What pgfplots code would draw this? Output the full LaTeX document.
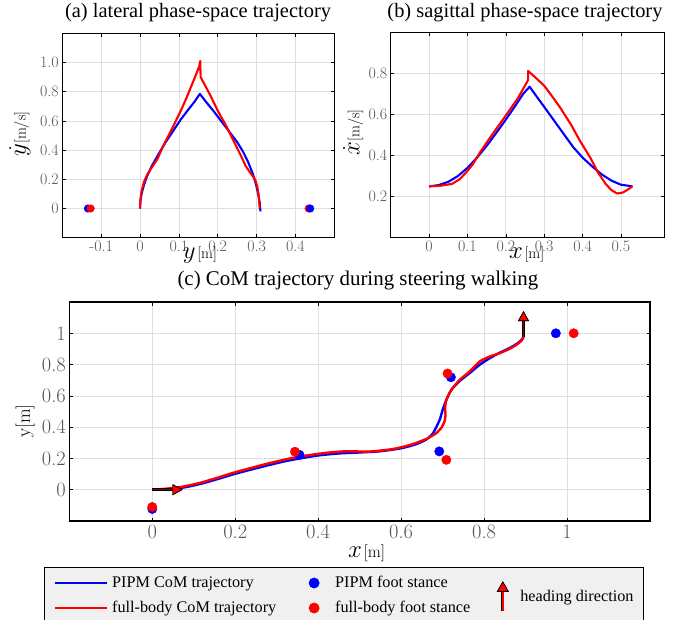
\documentclass[border=0pt]{standalone}
\usepackage{fontspec}
\setmainfont{Liberation Serif}
\newfontfamily\lmfont{Latin Modern Roman}
\usepackage{pgfplots}
\pgfplotsset{compat=1.18}
\usetikzlibrary{arrows.meta}

\definecolor{legfill}{RGB}{240,240,240}
\definecolor{gridc}{RGB}{222,222,222}
\definecolor{tickc}{RGB}{85,85,85}

\pgfplotsset{
  panel/.style={
    scale only axis,
    axis line style={black, line width=1.1bp},
    tick pos=both, tick align=inside, major tick length=3.5bp,
    every tick/.style={black, line width=0.6bp},
    grid=major, major grid style={gridc, line width=0.7bp},
    tick label style={color=tickc},
    /pgf/number format/assume math mode=true,
  },
  pipm/.style={blue, line width=2.1bp, line join=round},
  full/.style={red, line width=2.1bp, line join=round},
  heading/.style={-{Triangle[length=10bp, width=11bp, fill=red, color=black, line width=0.6bp]}},
}

\newcommand{\titlefont}{\fontsize{20.5}{22}\selectfont}
\newcommand{\unit}[1]{{\lmfont\fontsize{15.5}{16}\selectfont[#1]}}
\newcommand{\lab}[2]{{\fontsize{24}{24}\selectfont$#1$}\,\unit{#2}}

\begin{document}
\begin{tikzpicture}
\path[use as bounding box] (0bp,0bp) rectangle (685bp,-620bp);

% ---------- (a) lateral phase space ----------
\begin{axis}[panel,
  at={(62.3bp,-33.3bp)}, anchor=north west,
  width=272bp, height=204.4bp,
  xmin=-0.2, xmax=0.5, ymin=-0.2, ymax=1.2,
  xtick={-0.1,0,0.1,0.2,0.3,0.4},
  ytick={0,0.2,0.4,0.6,0.8,1.0},
  yticklabels={0,0.2,0.4,0.6,0.8,1.0},
  tick label style={font=\lmfont\fontsize{16}{16}\selectfont},
  title={(a) lateral phase-space trajectory},
  title style={font=\titlefont, at={(axis description cs:0.499,1.05)}, anchor=base},
  xlabel={\lab{y}{m}},
  xlabel style={at={(axis description cs:0.506,-0.102)}, anchor=base},
  ylabel={{\fontsize{24}{24}\selectfont$\dot{y}$}\unit{m/s}},
  ylabel style={at={(axis description cs:-0.156,0.507)}, anchor=center},
]
\addplot[pipm] coordinates {
 (0.000,0.00) (0.001,0.05) (0.004,0.10) (0.010,0.16) (0.018,0.22)
 (0.030,0.29) (0.045,0.36) (0.065,0.45) (0.085,0.53) (0.105,0.61)
 (0.125,0.68) (0.140,0.73) (0.154,0.785) (0.170,0.73) (0.190,0.665)
 (0.210,0.595) (0.230,0.525) (0.250,0.455) (0.265,0.39) (0.278,0.32)
 (0.290,0.24) (0.298,0.17) (0.304,0.10) (0.308,0.04) (0.310,-0.02)};
\addplot[full] coordinates {
 (0.000,0.00) (0.001,0.06) (0.004,0.12) (0.010,0.18) (0.018,0.23)
 (0.030,0.28) (0.045,0.34) (0.060,0.43) (0.085,0.56) (0.105,0.67)
 (0.120,0.76) (0.140,0.89) (0.152,0.97) (0.155,1.01) (0.156,0.90)
 (0.180,0.78) (0.200,0.67) (0.223,0.56) (0.245,0.44) (0.260,0.36)
 (0.272,0.29) (0.285,0.24) (0.296,0.20) (0.302,0.15) (0.306,0.08)
 (0.308,0.00)};
\addplot[only marks, mark=*, mark size=3.8bp, blue] coordinates {(-0.134,0)};
\addplot[only marks, mark=*, mark size=3.8bp, red] coordinates {(-0.127,0) (0.434,0)};
\addplot[only marks, mark=*, mark size=3.8bp, blue] coordinates {(0.438,0)};
\end{axis}

% ---------- (b) sagittal phase space ----------
\begin{axis}[panel,
  at={(390.7bp,-32.3bp)}, anchor=north west,
  width=274bp, height=205.4bp,
  xmin=-0.1, xmax=0.614, ymin=0, ymax=1.0,
  xtick={0,0.1,0.2,0.3,0.4,0.5},
  ytick={0.2,0.4,0.6,0.8},
  tick label style={font=\lmfont\fontsize{16}{16}\selectfont},
  title={(b) sagittal phase-space trajectory},
  title style={font=\titlefont, at={(axis description cs:0.49,1.044)}, anchor=base},
  xlabel={\lab{x}{m}},
  xlabel style={at={(axis description cs:0.496,-0.102)}, anchor=base},
  ylabel={{\fontsize{24}{24}\selectfont$\dot{x}$}\unit{m/s}},
  ylabel style={at={(axis description cs:-0.137,0.512)}, anchor=center},
]
\addplot[pipm] coordinates {
 (0.000,0.250) (0.025,0.256) (0.050,0.272) (0.075,0.300) (0.100,0.340)
 (0.125,0.390) (0.150,0.447) (0.175,0.510) (0.200,0.575) (0.225,0.643)
 (0.245,0.700) (0.262,0.735) (0.280,0.688) (0.300,0.637) (0.325,0.572)
 (0.350,0.507) (0.376,0.440) (0.400,0.390) (0.425,0.347) (0.450,0.308)
 (0.475,0.278) (0.500,0.258) (0.530,0.250)};
\addplot[full] coordinates {
 (0.000,0.250) (0.030,0.253) (0.060,0.262) (0.080,0.285) (0.100,0.325)
 (0.115,0.360) (0.133,0.416) (0.160,0.490) (0.200,0.595) (0.230,0.675)
 (0.256,0.760) (0.258,0.770) (0.258,0.812) (0.280,0.775) (0.300,0.740)
 (0.320,0.690) (0.341,0.635) (0.370,0.550) (0.393,0.472) (0.420,0.390)
 (0.440,0.318) (0.460,0.262) (0.475,0.232) (0.490,0.215) (0.505,0.220)
 (0.520,0.237) (0.530,0.250)};
\end{axis}

% ---------- (c) CoM trajectory ----------
\begin{axis}[panel,
  at={(69.3bp,-302bp)}, anchor=north west,
  width=580.7bp, height=219bp,
  xmin=-0.2, xmax=1.2, ymin=-0.2, ymax=1.2,
  xtick={0,0.2,0.4,0.6,0.8,1},
  ytick={0,0.2,0.4,0.6,0.8,1},
  tick label style={font=\lmfont\fontsize{20.5}{20.5}\selectfont},
  title={(c) CoM trajectory during steering walking},
  title style={font=\fontsize{21}{23}\selectfont, at={(axis description cs:0.497,1.047)}, anchor=base},
  xlabel={{\fontsize{23}{23}\selectfont$x$}\,{\lmfont\fontsize{17}{17}\selectfont[m]}},
  xlabel style={at={(axis description cs:0.512,-0.146)}, anchor=center},
  ylabel={\lmfont\fontsize{19}{19}\selectfont y[m]},
  ylabel style={at={(axis description cs:-0.076,0.457)}, anchor=center},
  legend columns=3,
  legend style={
    at={(-0.043,-0.211)}, anchor=north west,
    fill=legfill, draw=black, line width=0.8bp,
    inner xsep=9.4bp, inner ysep=2.9bp,
    font=\fontsize{16.3}{18}\selectfont,
    column sep=0pt, row sep=0pt,
    cells={anchor=west},
    nodes={inner xsep=0pt, inner ysep=4.5bp, text height=12bp, text depth=4bp},
  },
]
\addplot[pipm, line width=2.4bp, smooth, tension=0.4, forget plot] coordinates {
 (0.000,0.000) (0.040,0.004) (0.080,0.016) (0.120,0.040) (0.160,0.070)
 (0.200,0.102) (0.240,0.130) (0.280,0.157) (0.320,0.182) (0.360,0.202)
 (0.400,0.219) (0.450,0.232) (0.500,0.238) (0.550,0.246) (0.600,0.265)
 (0.635,0.290) (0.660,0.320) (0.677,0.362) (0.693,0.447) (0.700,0.510)
 (0.709,0.574) (0.721,0.638) (0.741,0.695) (0.765,0.745) (0.789,0.798)
 (0.813,0.840) (0.837,0.875) (0.861,0.905) (0.880,0.935) (0.891,0.960)
 (0.895,0.980)};
\addplot[full, line width=2.4bp, smooth, tension=0.4, forget plot] coordinates {
 (0.000,0.000) (0.040,0.008) (0.074,0.020) (0.114,0.043) (0.155,0.075)
 (0.195,0.108) (0.235,0.137) (0.275,0.165) (0.315,0.190) (0.347,0.208)
 (0.380,0.222) (0.420,0.236) (0.468,0.246) (0.524,0.244) (0.580,0.260)
 (0.620,0.285) (0.645,0.308) (0.665,0.330) (0.685,0.362) (0.698,0.400)
 (0.705,0.440) (0.707,0.480) (0.706,0.520) (0.709,0.574) (0.721,0.638)
 (0.741,0.702) (0.765,0.755) (0.789,0.819) (0.813,0.851) (0.837,0.872)
 (0.861,0.900) (0.880,0.930) (0.891,0.955) (0.895,0.975)};
% foot stances
\addplot[only marks, mark=*, mark size=4.7bp, blue, forget plot] coordinates {
 (0,-0.123) (0.355,0.223) (0.692,0.245) (0.720,0.719) (0.973,1.0)};
\addplot[only marks, mark=*, mark size=4.7bp, red, forget plot] coordinates {
 (0,-0.110) (0.344,0.243) (0.709,0.191) (0.712,0.743) (1.016,1.0)};
% heading direction at start and end
\addplot[black, line width=3.2bp, heading, forget plot, quiver={u=\thisrow{u}, v=\thisrow{v}}] table {
x y u v
0 0 0.073 0
0.895 0.975 0 0.167
};
\addplot[red!60!black, line width=1.4bp, heading, forget plot, quiver={u=\thisrow{u}, v=\thisrow{v}}] table {
x y u v
0 0 0.073 0
0.895 0.975 0 0.167
};
% legend
\addlegendimage{legend image code/.code={\path[draw=none,fill=none] (0bp,0bp) -- (57bp,0bp); \draw[blue, line width=2bp] (0bp,0bp) -- (52bp,0bp);}}
\addlegendentry{\makebox[181bp][l]{PIPM CoM trajectory}}
\addlegendimage{legend image code/.code={\path[draw=none,fill=none] (-21bp,0bp) -- (21bp,0bp); \fill[blue] (0bp,0bp) circle (5bp);}}
\addlegendentry{\makebox[150.2bp][l]{PIPM foot stance}}
\addlegendimage{legend image code/.code={\path[draw=none,fill=none] (-17.5bp,0bp) -- (17.5bp,0bp);
  \draw[overlay, black, line width=3bp, -{Triangle[length=10.5bp, width=12bp, fill=red, color=black, line width=0.6bp]}] (0bp,-28.3bp) -- (0bp,1.7bp);
  \draw[overlay, red, line width=1.4bp, -{Triangle[length=10.5bp, width=12bp, fill=red, color=black, line width=0.6bp]}] (0bp,-28.3bp) -- (0bp,1.7bp);}}
\addlegendentry{\raisebox{-14.6bp}[0pt][0pt]{\makebox[114bp][l]{heading direction}}}
\addlegendimage{legend image code/.code={\path[draw=none,fill=none] (0bp,0bp) -- (57bp,0bp); \draw[red, line width=2bp] (0bp,0bp) -- (52bp,0bp);}}
\addlegendentry{\makebox[181bp][l]{full-body CoM trajectory}}
\addlegendimage{legend image code/.code={\path[draw=none,fill=none] (-21bp,0bp) -- (21bp,0bp); \fill[red] (0bp,0bp) circle (5bp);}}
\addlegendentry{\makebox[150.2bp][l]{full-body foot stance}}
\addlegendimage{empty legend}
\addlegendentry{}
\end{axis}
\end{tikzpicture}
\end{document}
